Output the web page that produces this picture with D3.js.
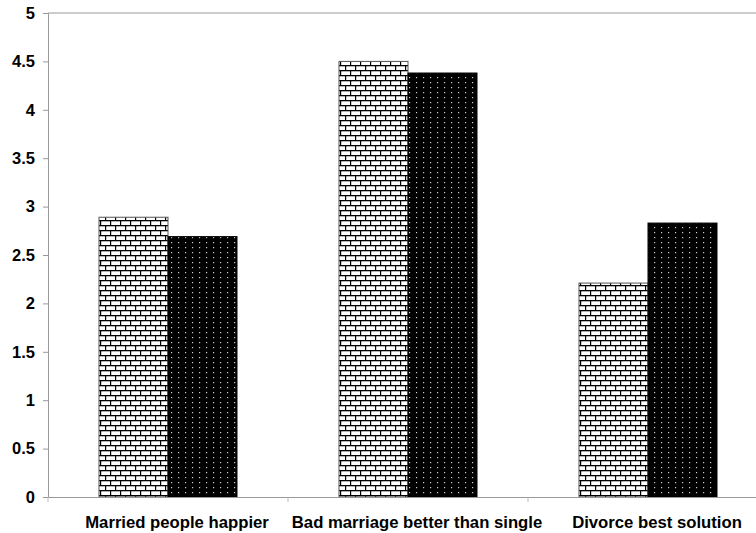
<!DOCTYPE html>
<html><head><meta charset="utf-8">
<script src="https://cdn.jsdelivr.net/npm/d3@7"></script>
<style>body{margin:0;background:#fff}svg{display:block}</style>
</head><body>
<script>
const categories = ["Married people happier", "Bad marriage better than single", "Divorce best solution"];
const seriesA = [2.89, 4.50, 2.21];
const seriesB = [2.69, 4.38, 2.83];
const yTicks = [0, 0.5, 1, 1.5, 2, 2.5, 3, 3.5, 4, 4.5, 5];

const W = 756, H = 533;
const m = {left: 48, top: 13, bottom: 36};
const plotW = 720, plotH = H - m.top - m.bottom;
const svg = d3.select("body").append("svg").attr("width", W).attr("height", H);
const defs = svg.append("defs");

const brick = defs.append("pattern").attr("id", "brick").attr("patternUnits", "userSpaceOnUse")
  .attr("width", 10).attr("height", 10);
brick.append("rect").attr("width", 10).attr("height", 10).attr("fill", "#fff");
brick.append("rect").attr("x", 0).attr("y", 0).attr("width", 10).attr("height", 1.3).attr("fill", "#000");
brick.append("rect").attr("x", 0).attr("y", 5).attr("width", 10).attr("height", 1.3).attr("fill", "#000");
brick.append("rect").attr("x", 0).attr("y", 0).attr("width", 1.2).attr("height", 5).attr("fill", "#000");
brick.append("rect").attr("x", 5).attr("y", 5).attr("width", 1.2).attr("height", 5).attr("fill", "#000");

const dots = defs.append("pattern").attr("id", "dots").attr("patternUnits", "userSpaceOnUse")
  .attr("width", 7).attr("height", 5);
dots.append("rect").attr("width", 7).attr("height", 5).attr("fill", "#000");
dots.append("rect").attr("x", 3).attr("y", 2).attr("width", 1.2).attr("height", 1.2).attr("fill", "#ccc");

const x = d3.scaleBand().domain(categories).range([m.left, m.left + plotW]);
const y = d3.scaleLinear().domain([0, 5]).range([m.top + plotH, m.top]);

svg.append("line").attr("x1", m.left).attr("x2", W).attr("y1", y(5)).attr("y2", y(5))
  .attr("stroke", "#999").attr("stroke-width", 1);

const barW = 69;
const g = svg.append("g");
categories.forEach((c, i) => {
  const cx = x(c) + x.bandwidth() / 2;
  g.append("rect").attr("x", cx - barW).attr("y", y(seriesA[i])).attr("width", barW)
    .attr("height", y(0) - y(seriesA[i])).attr("fill", "url(#brick)").attr("stroke", "#555").attr("stroke-width", 1);
  g.append("rect").attr("x", cx).attr("y", y(seriesB[i])).attr("width", barW)
    .attr("height", y(0) - y(seriesB[i])).attr("fill", "url(#dots)").attr("stroke", "#000").attr("stroke-width", 1);
});

const yAxis = svg.append("g").attr("transform", `translate(${m.left},0)`)
  .call(d3.axisLeft(y).tickValues(yTicks).tickSize(5).tickPadding(8).tickFormat(d3.format("")));
yAxis.select(".domain").attr("stroke", "#999");
yAxis.selectAll(".tick line").attr("stroke", "#999");
yAxis.selectAll("text").attr("font-family", "Liberation Sans, Arial, sans-serif")
  .attr("font-weight", "bold").attr("font-size", 16.5).attr("fill", "#000");

const xAxis = svg.append("g").attr("transform", `translate(0,${y(0)})`)
  .call(d3.axisBottom(x).tickSize(0).tickPadding(19));
xAxis.select(".domain").attr("stroke", "#999");
xAxis.selectAll("text").attr("font-family", "Liberation Sans, Arial, sans-serif")
  .attr("font-weight", "bold").attr("font-size", 16.7).attr("fill", "#000").attr("dx", 9);
[1, 2].forEach(i => {
  const xx = m.left + i * x.bandwidth();
  svg.append("line").attr("x1", xx).attr("x2", xx).attr("y1", y(0)).attr("y2", y(0) + 5)
    .attr("stroke", "#bbb");
});
svg.append("line").attr("x1", m.left).attr("x2", m.left).attr("y1", y(0)).attr("y2", y(0) + 5).attr("stroke", "#bbb");
</script>
</body></html>
